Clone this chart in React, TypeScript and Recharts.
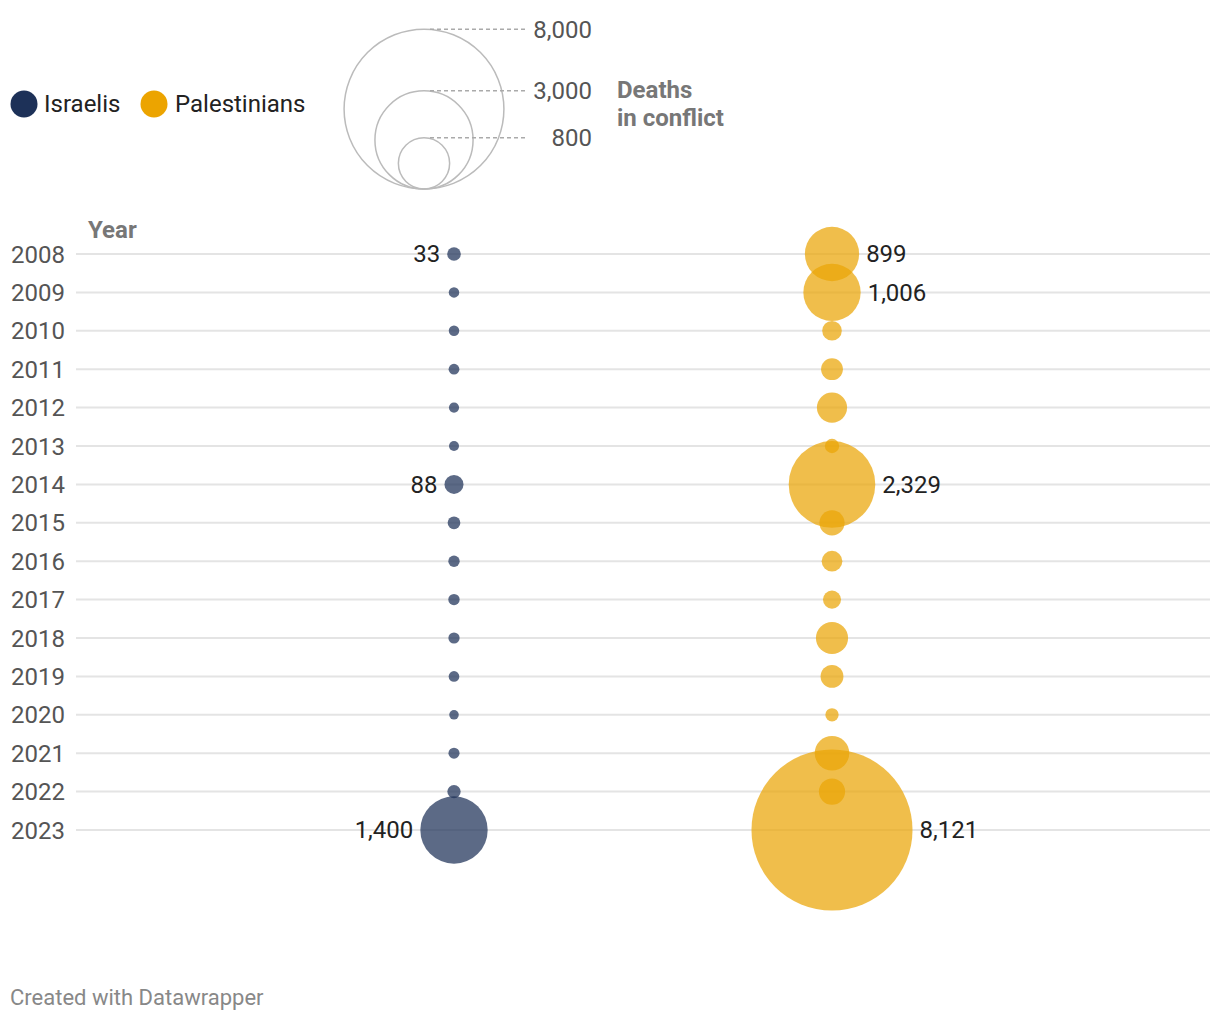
import React from "react";
import { CartesianGrid, Scatter, ScatterChart, XAxis, YAxis, ZAxis } from "recharts";

const years = [2008, 2009, 2010, 2011, 2012, 2013, 2014, 2015, 2016, 2017, 2018, 2019, 2020, 2021, 2022, 2023];
const israelis = [33, 9, 9, 11, 7, 6, 88, 25, 15, 15, 14, 10, 3, 13, 30, 1400];
const palestinians = [899, 1006, 95, 124, 260, 39, 2329, 174, 109, 77, 299, 138, 30, 349, 191, 8121];
const israeliLabelYears = [2008, 2014, 2023];
const palestinianLabelYears = [2008, 2009, 2014, 2023];
const sizeLegendValues = [8000, 3000, 800];

const NAVY = "#1d3158";
const ORANGE = "#eaa506";
const FONT = "Roboto, 'Noto Sans', sans-serif";

// bubble area grows linearly with deaths, with a small floor
const MIN_AREA = 64;
const AREA_PER_DEATH = 2.5;
const maxDeaths = Math.max(...israelis, ...palestinians);
const areaFor = (v: number) => MIN_AREA + AREA_PER_DEATH * v;
const radiusFor = (v: number) => Math.sqrt(areaFor(v) / Math.PI);

const fmt = (v: number) => v.toLocaleString("en-US");

const israeliData = years.map((year, i) => ({
  x: 1,
  year,
  deaths: israelis[i],
  labeled: israeliLabelYears.includes(year)
}));
const palestinianData = years.map((year, i) => ({
  x: 2,
  year,
  deaths: palestinians[i],
  labeled: palestinianLabelYears.includes(year)
}));

function Bubble(props: any) {
  const { cx, cy, size, width, payload, color, side } = props;
  const r = size ? Math.sqrt(size / Math.PI) : (width ?? 0) / 2;
  return (
    <g>
      <circle cx={cx} cy={cy} r={r} fill={color} fillOpacity={0.72} />
      {payload?.labeled && (
        <text
          x={side === "left" ? cx - r - 7 : cx + r + 7}
          y={cy}
          dy="0.35em"
          textAnchor={side === "left" ? "end" : "start"}
          fontSize={24}
          fill="#222"
        >
          {fmt(payload.deaths)}
        </text>
      )}
    </g>
  );
}

function Overlay() {
  const cx = 424;
  const bottom = 189;
  return (
    <svg
      width={1220}
      height={1022}
      style={{ position: "absolute", left: 0, top: 0, pointerEvents: "none", fontFamily: FONT }}
    >
      <circle cx={24} cy={104} r={13.5} fill={NAVY} />
      <text x={44} y={104} dy="0.35em" fontSize={24} fill="#222">Israelis</text>
      <circle cx={154} cy={104} r={13.5} fill="#eca400" />
      <text x={175} y={104} dy="0.35em" fontSize={24} fill="#222">Palestinians</text>

      {sizeLegendValues.map((v) => {
        const r = radiusFor(v);
        const top = bottom - 2 * r;
        return (
          <g key={v}>
            <circle cx={cx} cy={bottom - r} r={r} fill="none" stroke="#bbb" strokeWidth={1.5} />
            <line x1={cx + 6} x2={525} y1={top} y2={top} stroke="#aaa" strokeWidth={1.5} strokeDasharray="4 3" />
            <text x={592} y={top} dy="0.35em" textAnchor="end" fontSize={24} fill="#555">
              {fmt(v)}
            </text>
          </g>
        );
      })}
      <text x={617} y={98} fontSize={24} fontWeight={700} fill="#777">Deaths</text>
      <text x={617} y={126} fontSize={24} fontWeight={700} fill="#777">in conflict</text>

      <text x={88} y={238} fontSize={24} fontWeight={700} fill="#777">Year</text>
      <text x={10} y={1005} fontSize={22} fill="#888">Created with Datawrapper</text>
    </svg>
  );
}

export default function App() {
  return (
    <div style={{ position: "absolute", left: 0, top: 0, width: 1220, height: 1022, background: "#fff", fontFamily: FONT }}>
      <ScatterChart width={1220} height={1022} margin={{ top: 254, right: 10, bottom: 192, left: 0 }}>
        <CartesianGrid horizontal vertical={false} stroke="#e4e4e4" strokeWidth={2} />
        <XAxis type="number" dataKey="x" domain={[0, 3]} hide />
        <YAxis
          type="number"
          dataKey="year"
          domain={[2008, 2023]}
          ticks={years}
          interval={0}
          reversed
          axisLine={false}
          tickLine={false}
          tickMargin={5}
          width={76}
          tick={{ fontSize: 24, fill: "#555" }}
        />
        <ZAxis type="number" dataKey="deaths" domain={[0, maxDeaths]} range={[MIN_AREA, areaFor(maxDeaths)]} />
        <Scatter
          data={israeliData}
          isAnimationActive={false}
          shape={(p: any) => <Bubble {...p} color={NAVY} side="left" />}
        />
        <Scatter
          data={palestinianData}
          isAnimationActive={false}
          shape={(p: any) => <Bubble {...p} color={ORANGE} side="right" />}
        />
      </ScatterChart>
      <Overlay />
    </div>
  );
}
